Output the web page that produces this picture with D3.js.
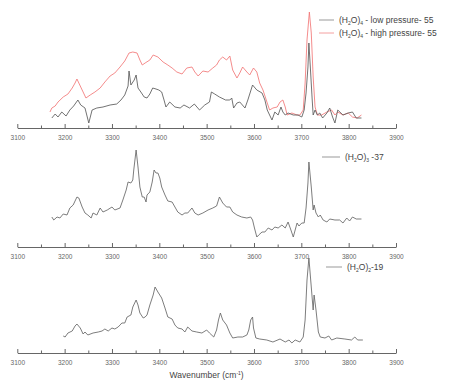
<!DOCTYPE html>
<html>
<head>
<meta charset="utf-8">
<script src="https://cdn.jsdelivr.net/npm/d3@7"></script>
<style>
  body { margin: 0; background: #fff; }
  svg { font-family: "Liberation Sans", Arial, sans-serif; }
  .axis path, .axis line { stroke: #555; stroke-width: 0.9; }
  .axis text { fill: #666; font-size: 6.5px; }
</style>
</head>
<body>
<div class="chart"></div>
<script>
// spectra: [wavenumber cm-1, intensity (arb.)]
var tetramerLow = [[3173,10],[3180,14],[3186,11],[3194,16],[3203,12],[3211,18],[3219,22],[3228,28],[3234,23],[3243,20],[3251,5],[3258,18],[3268,20],[3281,21],[3296,23],[3310,24],[3319,28],[3327,33],[3334,42],[3336,57],[3340,43],[3347,48],[3351,53],[3355,40],[3361,36],[3368,31],[3374,30],[3380,34],[3386,40],[3393,39],[3399,38],[3405,36],[3410,28],[3414,21],[3422,26],[3433,21],[3444,20],[3452,23],[3464,20],[3474,24],[3485,18],[3496,23],[3506,26],[3510,36],[3517,34],[3527,31],[3540,28],[3549,28],[3553,30],[3557,20],[3564,25],[3570,26],[3581,20],[3587,28],[3597,43],[3606,38],[3617,35],[3623,28],[3628,18],[3633,13],[3638,8],[3644,16],[3651,13],[3657,21],[3661,16],[3666,13],[3672,15],[3683,13],[3693,13],[3701,11],[3706,18],[3710,35],[3714,61],[3716,85],[3719,61],[3723,28],[3725,13],[3729,18],[3734,13],[3739,15],[3745,10],[3754,15],[3760,20],[3766,11],[3771,5],[3777,18],[3788,13],[3799,15],[3808,16],[3816,10],[3827,10]];

var tetramerHigh = [[3169,16],[3173,20],[3180,22],[3186,26],[3197,31],[3207,34],[3216,40],[3222,45],[3226,49],[3233,42],[3239,36],[3245,30],[3254,33],[3264,36],[3275,40],[3285,46],[3296,52],[3306,55],[3317,61],[3327,67],[3336,75],[3344,76],[3353,75],[3359,68],[3364,63],[3370,65],[3380,68],[3387,73],[3397,71],[3408,66],[3418,63],[3427,60],[3437,56],[3448,54],[3458,60],[3469,61],[3475,56],[3482,52],[3492,57],[3503,56],[3513,60],[3521,63],[3527,68],[3534,71],[3542,68],[3549,72],[3555,58],[3564,50],[3570,55],[3576,61],[3585,56],[3591,53],[3599,60],[3606,56],[3612,45],[3619,38],[3628,25],[3633,18],[3640,20],[3649,21],[3655,26],[3661,28],[3666,21],[3670,13],[3680,15],[3691,13],[3697,13],[3704,18],[3708,45],[3712,88],[3717,116],[3721,95],[3725,51],[3729,21],[3734,13],[3743,13],[3754,16],[3764,18],[3771,13],[3777,16],[3788,13],[3799,15],[3808,11],[3818,10],[3827,13]];

var trimer = [[3173,30],[3177,27],[3184,30],[3190,29],[3197,33],[3205,32],[3211,39],[3218,42],[3226,50],[3230,49],[3237,40],[3243,34],[3249,32],[3256,29],[3260,34],[3268,32],[3275,39],[3281,35],[3290,37],[3300,40],[3306,37],[3317,39],[3323,47],[3330,57],[3334,65],[3340,64],[3344,67],[3346,77],[3351,97],[3355,80],[3359,60],[3364,50],[3368,50],[3372,45],[3374,52],[3380,55],[3385,65],[3389,77],[3393,74],[3397,74],[3401,69],[3405,60],[3412,52],[3418,46],[3427,45],[3433,40],[3439,35],[3448,32],[3454,34],[3460,34],[3469,39],[3475,34],[3482,32],[3492,34],[3503,37],[3513,39],[3521,41],[3527,50],[3534,44],[3542,40],[3549,40],[3555,35],[3564,32],[3574,30],[3585,29],[3593,30],[3597,27],[3601,19],[3606,10],[3610,12],[3617,15],[3623,15],[3630,19],[3638,17],[3644,20],[3651,19],[3659,22],[3666,19],[3672,25],[3678,17],[3683,10],[3687,17],[3691,24],[3695,21],[3701,24],[3706,24],[3710,39],[3714,64],[3716,85],[3721,60],[3725,37],[3727,42],[3731,34],[3736,30],[3740,32],[3746,27],[3754,25],[3760,28],[3771,27],[3781,27],[3788,24],[3796,29],[3802,26],[3808,30],[3816,28],[3827,28]];

var dimer = [[3197,17],[3201,16],[3207,20],[3216,22],[3222,27],[3226,29],[3233,25],[3239,19],[3243,21],[3249,18],[3260,20],[3271,21],[3279,22],[3285,24],[3292,22],[3300,25],[3306,24],[3313,26],[3321,30],[3327,30],[3332,36],[3340,38],[3344,46],[3351,53],[3355,48],[3359,40],[3366,35],[3370,36],[3374,38],[3380,48],[3387,58],[3391,66],[3397,61],[3405,55],[3412,45],[3418,36],[3427,34],[3433,28],[3439,25],[3448,24],[3454,21],[3460,26],[3469,22],[3479,21],[3490,20],[3500,23],[3506,20],[3515,16],[3521,23],[3525,33],[3529,40],[3534,33],[3542,28],[3549,20],[3555,15],[3566,16],[3576,16],[3585,18],[3589,23],[3593,33],[3597,36],[3599,25],[3604,15],[3612,14],[3627,13],[3640,11],[3655,14],[3666,11],[3674,13],[3680,10],[3687,13],[3697,11],[3704,16],[3708,33],[3712,73],[3716,95],[3721,66],[3725,43],[3727,58],[3731,43],[3736,21],[3740,16],[3750,15],[3758,17],[3764,13],[3775,15],[3792,14],[3806,13],[3813,16],[3819,13],[3830,13]];

var majorTicks = [3100, 3200, 3300, 3400, 3500, 3600, 3700, 3800, 3900];
var minorTicks = [3150, 3250, 3350, 3450, 3550, 3650, 3750, 3850];

var width = 460, height = 381;

var svg = d3.select('.chart')
  .append('svg')
  .attr('width', width)
  .attr('height', height);

var xScale = d3.scaleLinear()
  .domain([3100, 3900])
  .range([17.3, 396]);

var line = d3.line()
  .x(d => xScale(d[0]))
  .y(d => d.y);

// one panel = axis baseline + traces + legend
var panels = [
  {
    axisY: 128,
    series: [
      { data: tetramerLow, color: '#5a5a5a', legend: '#999', n: '4', label: ' - low pressure- 55' },
      { data: tetramerHigh, color: '#f27777', legend: '#f4a0a0', n: '4', label: ' - high pressure- 55' }
    ],
    legend: { x: 319, y: 20, len: 15, gap: 5, step: 13 }
  },
  {
    axisY: 247,
    series: [{ data: trimer, color: '#666', legend: '#999', n: '3', label: ' -37' }],
    legend: { x: 322, y: 157, len: 18, gap: 5, step: 13 }
  },
  {
    axisY: 353,
    series: [{ data: dimer, color: '#666', legend: '#999', n: '2', label: '-19' }],
    legend: { x: 326, y: 267, len: 16, gap: 5, step: 13 }
  }
];

panels.forEach(p => {
  var yScale = d3.scaleLinear().domain([0, 100]).range([p.axisY, p.axisY - 100]);

  var g = svg.append('g');

  g.append('g')
    .attr('class', 'axis')
    .attr('transform', `translate(0, ${p.axisY})`)
    .call(d3.axisBottom(xScale).tickValues(majorTicks).tickSize(-4).tickSizeOuter(0).tickPadding(7).tickFormat(d3.format('d')));

  g.append('g')
    .attr('class', 'axis')
    .attr('transform', `translate(0, ${p.axisY})`)
    .call(d3.axisBottom(xScale).tickValues(minorTicks).tickSize(-2.5).tickSizeOuter(0).tickFormat(''))
    .select('.domain').remove();

  // draw black trace last so it sits on top of the red one
  p.series.slice().reverse().forEach(s => {
    g.append('path')
      .attr('d', line(s.data.map(d => Object.assign([d[0], d[1]], { y: yScale(d[1]) }))))
      .attr('fill', 'none')
      .attr('stroke', s.color)
      .attr('stroke-width', 0.85)
      .attr('stroke-linejoin', 'round');
  });

  p.series.forEach((s, i) => {
    var ly = p.legend.y + i * p.legend.step;
    g.append('line')
      .attr('x1', p.legend.x).attr('x2', p.legend.x + p.legend.len)
      .attr('y1', ly).attr('y2', ly)
      .attr('stroke', s.legend).attr('stroke-width', 1);
    var t = g.append('text')
      .attr('x', p.legend.x + p.legend.len + p.legend.gap)
      .attr('y', ly + 3)
      .attr('fill', '#444')
      .style('font-size', '8.5px');
    t.append('tspan').text('(H');
    t.append('tspan').attr('dy', 2).style('font-size', '5px').text('2');
    t.append('tspan').attr('dy', -2).text('O)');
    t.append('tspan').attr('dy', 2).style('font-size', '5px').text(s.n);
    t.append('tspan').attr('dy', -2).text(s.label);
  });
});

var title = svg.append('text')
  .attr('x', xScale(3500))
  .attr('y', 378)
  .attr('text-anchor', 'middle')
  .attr('fill', '#444')
  .style('font-size', '8.5px');
title.append('tspan').text('Wavenumber (cm');
title.append('tspan').attr('dy', -3).style('font-size', '5px').text('-1');
title.append('tspan').attr('dy', 3).text(')');
</script>
</body>
</html>
